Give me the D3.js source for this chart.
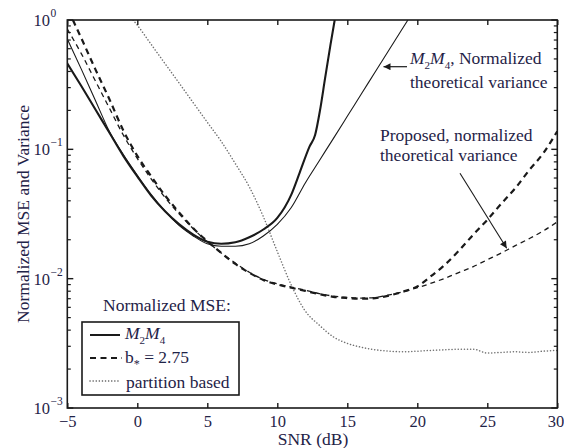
<!DOCTYPE html>
<html>
<head>
<meta charset="utf-8">
<script src="https://cdn.jsdelivr.net/npm/d3@7"></script>
<style>
  html, body { margin: 0; padding: 0; background: #fff; }
  svg { display: block; }
</style>
</head>
<body>
<svg id="chart" width="564" height="448"></svg>
<script>
// SNR grid (dB) and normalized MSE / variance values for each curve
const m2m4Snr = [-5, -4, -3, -2, -1, 0, 1, 2, 3, 4, 5, 6, 7, 8, 9, 10, 11, 11.6, 12.3, 12.7, 13.05, 13.4, 13.8, 14.1];
const m2m4Mse = [0.462, 0.309, 0.204, 0.135, 0.0891, 0.0617, 0.0437, 0.0331, 0.0263, 0.0219, 0.0193, 0.0186, 0.0191, 0.0209, 0.0240, 0.0295, 0.0447, 0.0661, 0.105, 0.129, 0.200, 0.347, 0.646, 1.0];

const m2m4TheorySnr = [-5, -4, -3, -2, -1, 0, 1, 2, 3, 4, 5, 6, 7, 8, 9, 10, 11, 12, 13, 14, 15, 16, 17, 18, 19, 19.33];
const m2m4Theory = [0.713, 0.417, 0.240, 0.138, 0.0912, 0.0631, 0.0447, 0.0331, 0.0257, 0.0214, 0.0186, 0.0178, 0.0178, 0.0186, 0.0214, 0.0263, 0.0355, 0.0550, 0.0817, 0.121, 0.180, 0.268, 0.398, 0.592, 0.879, 1.0];

const bStarSnr = [-4.6, -4, -3, -2, -1, 0, 1, 2, 3, 4, 5, 6, 7, 8, 9, 10, 11, 12, 13, 14, 15, 16, 17, 18, 19, 20, 21, 22, 23, 24, 25, 26, 27, 28, 29, 30];
const bStarMse = [1.0, 0.724, 0.417, 0.245, 0.140, 0.0891, 0.0617, 0.0437, 0.0324, 0.0245, 0.0195, 0.0158, 0.0130, 0.0111, 0.00977, 0.00902, 0.00851, 0.00804, 0.00759, 0.00724, 0.00708, 0.00700, 0.00708, 0.00741, 0.00794, 0.00871, 0.0105, 0.0129, 0.0166, 0.0219, 0.0285, 0.0380, 0.0501, 0.0692, 0.0933, 0.138];

const proposedTheorySnr = [-5, -4, -3, -2, -1, 0, 1, 2, 3, 4, 5, 6, 7, 8, 9, 10, 11, 12, 13, 14, 15, 16, 17, 18, 19, 20, 21, 22, 23, 24, 25, 26, 27, 28, 29, 30];
const proposedTheory = [0.851, 0.550, 0.339, 0.209, 0.129, 0.0851, 0.0589, 0.0422, 0.0316, 0.0243, 0.0193, 0.0158, 0.0132, 0.0112, 0.00989, 0.00912, 0.00861, 0.00813, 0.00767, 0.00733, 0.00716, 0.00708, 0.00716, 0.00750, 0.00794, 0.00851, 0.00923, 0.0101, 0.0112, 0.0124, 0.0140, 0.0158, 0.0180, 0.0204, 0.0234, 0.0275];

const partitionSnr = [-0.3, 0, 1, 2, 3, 4, 5, 6, 7, 8, 9, 10, 11, 12, 13, 14, 15, 16, 17, 18, 19, 20, 21, 22, 23, 24, 25, 26, 27, 28, 29, 30];
const partitionMse = [1.0, 0.912, 0.646, 0.457, 0.324, 0.229, 0.162, 0.115, 0.0776, 0.0513, 0.0302, 0.0162, 0.00891, 0.00562, 0.00437, 0.00355, 0.00316, 0.00295, 0.00282, 0.00275, 0.00272, 0.00275, 0.00279, 0.00282, 0.00285, 0.00285, 0.00266, 0.00269, 0.00272, 0.00269, 0.00275, 0.00279];

// Axis ticks
const xTicks = [-5, 0, 5, 10, 15, 20, 25, 30];
const yDecades = [1e-3, 1e-2, 1e-1, 1];
const yExponents = ["\u22123", "\u22122", "\u22121", "0"];

const serif = "'Liberation Serif', Tinos, 'Times New Roman', 'DejaVu Serif', serif";
const textInk = "#1f2347";
const ink = "#1a1a1a";
const fs = 17.5;

const svg = d3.select("#chart");
const plot = { left: 67.3, right: 557.3, top: 20, bottom: 408 };

const x = d3.scaleLinear().domain([-5, 30]).range([plot.left, plot.right]);
const y = d3.scaleLog().domain([1e-3, 1]).range([plot.bottom, plot.top]);

const defs = svg.append("defs");
defs.append("clipPath").attr("id", "plotClip")
  .append("rect")
  .attr("x", plot.left).attr("y", plot.top)
  .attr("width", plot.right - plot.left).attr("height", plot.bottom - plot.top);

// Text helper: every label uses the serif face
function label(parent, xPos, yPos, size) {
  return parent.append("text")
    .attr("x", xPos).attr("y", yPos)
    .attr("font-family", serif).attr("font-size", size)
    .attr("fill", textInk);
}

// Italic M with subscript 2, then M with subscript 4
function m2m4(t) {
  t.append("tspan").attr("font-style", "italic").text("M");
  t.append("tspan").attr("font-size", 11).attr("dy", 4.5).text("2");
  t.append("tspan").attr("font-style", "italic").attr("dy", -4.5).text("M");
  t.append("tspan").attr("font-size", 11).attr("dy", 4.5).text("4");
  return t;
}

// Curves
const line = d3.line()
  .x(d => x(d[0]))
  .y(d => y(d[1]))
  .curve(d3.curveMonotoneX);

const curves = svg.append("g").attr("clip-path", "url(#plotClip)");

function drawCurve(snr, vals, style) {
  curves.append("path")
    .datum(d3.zip(snr, vals))
    .attr("d", line)
    .attr("fill", "none")
    .attr("stroke", style.color || ink)
    .attr("stroke-width", style.width)
    .attr("stroke-dasharray", style.dash || null)
    .attr("stroke-linecap", style.cap || "butt")
    .attr("stroke-linejoin", "round");
}

drawCurve(partitionSnr, partitionMse, { width: 1.5, dash: "0.1,3", color: "#707070", cap: "round" });
drawCurve(proposedTheorySnr, proposedTheory, { width: 1.3, dash: "5,4" });
drawCurve(bStarSnr, bStarMse, { width: 2.2, dash: "6,4.5" });
drawCurve(m2m4TheorySnr, m2m4Theory, { width: 1.1 });
drawCurve(m2m4Snr, m2m4Mse, { width: 2.1 });

// Frame and ticks (inward, on all four sides)
const axes = svg.append("g");
axes.append("rect")
  .attr("x", plot.left).attr("y", plot.top)
  .attr("width", plot.right - plot.left).attr("height", plot.bottom - plot.top)
  .attr("fill", "none").attr("stroke", ink).attr("stroke-width", 1.6);

const bottomAxis = d3.axisBottom(x).tickValues(xTicks).tickSizeInner(-5).tickSizeOuter(0).tickPadding(7)
  .tickFormat(d => d < 0 ? "\u2212" + Math.abs(d) : d);
const gx = axes.append("g").attr("transform", `translate(0,${plot.bottom})`).call(bottomAxis);
gx.select(".domain").remove();
gx.selectAll(".tick line").attr("stroke", ink).attr("stroke-width", 1.4);
gx.selectAll(".tick text")
  .attr("font-size", 16.5).attr("fill", textInk).attr("font-family", serif)
  .attr("text-anchor", d => d === 30 ? "end" : "middle")
  .attr("dx", d => d === 30 ? 6.5 : 0);

const topAxis = d3.axisTop(x).tickValues(xTicks).tickSizeInner(-5).tickSizeOuter(0).tickFormat("");
const gxt = axes.append("g").attr("transform", `translate(0,${plot.top})`).call(topAxis);
gxt.select(".domain").remove();
gxt.selectAll(".tick line").attr("stroke", ink).attr("stroke-width", 1.4);

// Log ticks on the y axis: majors at decades, minors at 2..9 per decade
const yMinor = [];
yDecades.slice(0, -1).forEach(d => { for (let k = 2; k <= 9; k++) yMinor.push(d * k); });

[[plot.left, 1], [plot.right, -1]].forEach(([x0, dir]) => {
  axes.selectAll(null).data(yDecades).join("line")
    .attr("x1", x0).attr("x2", x0 + dir * 6)
    .attr("y1", d => y(d)).attr("y2", d => y(d))
    .attr("stroke", ink).attr("stroke-width", 1.4);
  axes.selectAll(null).data(yMinor).join("line")
    .attr("x1", x0).attr("x2", x0 + dir * 3.5)
    .attr("y1", d => y(d)).attr("y2", d => y(d))
    .attr("stroke", ink).attr("stroke-width", 1.2);
});

// y tick labels as 10^n
yDecades.forEach((d, i) => {
  label(axes, 50, y(d) + 6, 16.5).attr("text-anchor", "end").text("10");
  label(axes, 50.5, y(d) - 3, 11.5).text(yExponents[i]);
});

// Axis titles
label(svg, 313, 445, fs).attr("text-anchor", "middle").text("SNR (dB)");
label(svg, 0, 0, fs)
  .attr("transform", "translate(29,214) rotate(-90)")
  .attr("text-anchor", "middle")
  .text("Normalized MSE and Variance");

// Legend
const lg = svg.append("g");
label(lg, 103, 311, fs).text("Normalized MSE:");
lg.append("rect").attr("x", 82).attr("y", 322).attr("width", 157).attr("height", 73)
  .attr("fill", "#fff").attr("stroke", ink).attr("stroke-width", 1.6);

lg.append("line").attr("x1", 90).attr("x2", 120).attr("y1", 335).attr("y2", 335)
  .attr("stroke", ink).attr("stroke-width", 2);
m2m4(label(lg, 125, 339, fs));

lg.append("line").attr("x1", 90).attr("x2", 122).attr("y1", 358).attr("y2", 358)
  .attr("stroke", ink).attr("stroke-width", 1.8).attr("stroke-dasharray", "6,4.5");
const t2 = label(lg, 125, 363, fs);
t2.append("tspan").text("b");
t2.append("tspan").attr("font-size", 12).attr("dy", 5).text("*");
t2.append("tspan").attr("dy", -5).text(" = 2.75");

lg.append("line").attr("x1", 90).attr("x2", 119).attr("y1", 381).attr("y2", 381)
  .attr("stroke", "#555").attr("stroke-width", 1.5).attr("stroke-linecap", "round")
  .attr("stroke-dasharray", "0.1,3");
label(lg, 126, 388, fs).text("partition based");

// Annotations with arrows
defs.append("marker").attr("id", "arrowHead")
  .attr("viewBox", "0 0 10 10").attr("refX", 10).attr("refY", 5)
  .attr("markerWidth", 9).attr("markerHeight", 7).attr("markerUnits", "userSpaceOnUse")
  .attr("orient", "auto")
  .append("path").attr("d", "M0,0 L10,5 L0,10 Z").attr("fill", ink);

const a1 = m2m4(label(svg, 410, 64, fs));
a1.append("tspan").attr("dy", -4.5).text(", Normalized");
label(svg, 410, 88, fs).text("theoretical variance");
svg.append("line").attr("x1", 407).attr("y1", 66.7).attr("x2", 383.5).attr("y2", 66.7)
  .attr("stroke", ink).attr("stroke-width", 1.2).attr("marker-end", "url(#arrowHead)");

label(svg, 380, 141, fs).text("Proposed, normalized");
label(svg, 380, 161, fs).text("theoretical variance");
svg.append("line").attr("x1", 460).attr("y1", 173.3).attr("x2", 506.7).attr("y2", 248.3)
  .attr("stroke", ink).attr("stroke-width", 1.1).attr("marker-end", "url(#arrowHead)");
</script>
</body>
</html>
